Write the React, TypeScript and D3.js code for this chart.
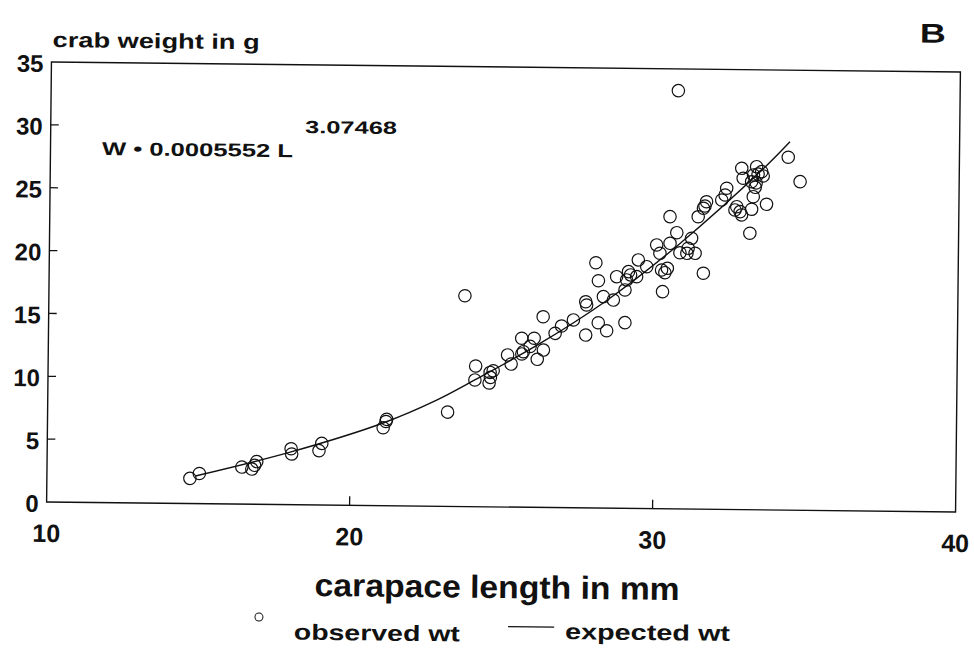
import React from "react";
import * as d3 from "d3";

// observed points: carapace length (mm) and weight (g)
const obsLength = [
  14.72, 15.03, 16.43, 16.76, 16.92, 16.85, 18.05, 18.07, 18.97, 19.06,
  21.08, 21.19, 21.17, 23.2, 23.73, 24.11, 24.09, 24.59, 24.69, 24.56,
  25.16, 25.28, 25.62, 25.63, 25.68, 26.03, 26.14, 26.34, 26.32, 26.72,
  26.93, 27.32, 27.73, 27.75, 27.72, 28.14, 28.42, 28.3, 28.63, 29.02,
  28.13, 28.04, 28.73, 29.01, 29.12, 29.19, 29.06, 29.44, 29.39, 29.72,
  30.04, 30.15, 30.25, 30.21, 30.32, 30.4, 30.47, 30.48, 30.7, 30.7,
  31.19, 31.08, 31.31, 31.04, 30.81, 31.59, 31.67, 31.62, 31.57, 31.4,
  32.33, 32.28, 32.17, 32.67, 32.78, 32.83, 32.61, 33.16, 33.11, 33.21,
  33.65, 32.82, 33.31, 33.48, 33.21, 32.87, 33.15, 33.53, 33.27, 34.35,
  34.75, 33.36, 33.3, 24.6, 25.9,
];
const obsWeight = [
  2.0, 2.4, 2.95, 2.8, 3.4, 3.1, 4.45, 4.03, 4.32, 4.9,
  6.2, 6.87, 6.7, 7.5, 16.77, 11.19, 10.08, 10.69, 10.83, 9.85,
  12.1, 11.38, 13.44, 12.19, 12.37, 13.45, 11.78, 12.52, 15.17, 13.86,
  14.45, 14.94, 13.75, 16.14, 16.4, 14.74, 14.11, 16.82, 16.56, 14.77,
  18.08, 19.51, 18.42, 17.37, 18.83, 18.57, 18.17, 19.77, 18.44, 19.24,
  20.98, 20.32, 17.27, 18.99, 18.78, 19.13, 23.24, 21.12, 21.97, 33.27,
  21.54, 20.74, 20.35, 20.34, 20.38, 18.77, 24.46, 24.12, 23.94, 23.26,
  25.55, 25.01, 24.61, 24.09, 23.7, 23.44, 23.83, 23.9, 21.99, 24.9,
  24.31, 27.15, 27.29, 26.9, 26.63, 26.36, 26.09, 26.56, 25.65, 28.07,
  26.14, 26.7, 26.0, 10.3, 12.8,
];

// expected weight line
const expLength = [14.9, 18.05, 21.1, 22.8, 24.1, 26.2, 28.4, 30.8, 33.6, 34.4];
const expWeight = [2.2, 4.2, 6.6, 8.4, 10.1, 13.0, 16.5, 21.1, 27.3, 29.3];

const xTickLabels = [10, 20, 30, 40];
const xTickMarks = [20, 30];
const yTickLabels = [0, 5, 10, 15, 20, 25, 30, 35];
const yTickMarks = [5, 10, 15, 20, 25, 30];

const FONT = "'Liberation Sans', Arial, Helvetica, sans-serif";

export default function App() {
  const W = 974;
  const H = 669;
  const left = 49;
  const right = 958;
  const top = 67;
  const bottom = 507;

  const x = d3.scaleLinear().domain([10, 40]).range([left, right]);
  const y = d3.scaleLinear().domain([0, 35]).range([bottom, top]);

  const pts = obsLength.map((l, i) => ({ l, w: obsWeight[i] }));
  const linePts = expLength.map((l, i) => ({ l, w: expWeight[i] }));
  const line = d3
    .line<{ l: number; w: number }>()
    .x((d) => x(d.l))
    .y((d) => y(d.w))
    .curve(d3.curveCatmullRom);

  return (
    <svg
      width={W}
      height={H}
      style={{ position: "absolute", left: 0, top: 0, background: "#fff" }}
      fontFamily={FONT}
    >
      <rect x={0} y={0} width={W} height={H} fill="#fff" />
      <g transform="rotate(0.63 503.5 287)">
        {/* frame */}
        <rect
          x={left}
          y={top}
          width={right - left}
          height={bottom - top}
          fill="none"
          stroke="#111"
          strokeWidth={1.4}
        />
        {/* y ticks */}
        {yTickMarks.map((t) => (
          <line key={"yt" + t} x1={left} x2={left + 8} y1={y(t)} y2={y(t)} stroke="#111" strokeWidth={1.3} />
        ))}
        {xTickMarks.map((t) => (
          <line key={"xt" + t} x1={x(t)} x2={x(t)} y1={bottom} y2={bottom - 9} stroke="#111" strokeWidth={1.3} />
        ))}
        {yTickLabels.map((t) => (
          <text
            key={"yl" + t}
            x={left - 8}
            y={y(t) + 1.5}
            textAnchor="end"
            dominantBaseline="central"
            fontSize={24}
            fontWeight="bold"
            fill="#111"
          >
            {t}
          </text>
        ))}
        {xTickLabels.map((t) => (
          <text
            key={"xl" + t}
            x={x(t)}
            y={bottom + 40}
            textAnchor="middle"
            fontSize={25}
            fontWeight="bold"
            fill="#111"
          >
            {t}
          </text>
        ))}

        {/* expected line */}
        <path d={line(linePts) || ""} fill="none" stroke="#111" strokeWidth={1.4} />

        {/* observed points */}
        {pts.map((p, i) => (
          <circle key={"p" + i} cx={x(p.l)} cy={y(p.w)} r={6.2} fill="none" stroke="#111" strokeWidth={1.2} />
        ))}

        {/* titles */}
        <text x={50} y={52} fontSize={21} fontWeight="bold" fill="#111" textLength={207} lengthAdjust="spacingAndGlyphs">
          crab weight in g
        </text>
        <text x={917} y={38} fontSize={27} fontWeight="bold" fill="#111" textLength={26} lengthAdjust="spacingAndGlyphs">
          B
        </text>
        <text x={100.5} y={159.4} fontSize={18.5} fontWeight="bold" fill="#111" textLength={191} lengthAdjust="spacingAndGlyphs">
          W • 0.0005552 L
        </text>
        <text x={303.3} y={135.2} fontSize={17.5} fontWeight="bold" fill="#111" textLength={92} lengthAdjust="spacingAndGlyphs">
          3.07468
        </text>
        <text x={318} y={598} fontSize={32} fontWeight="bold" fill="#111" textLength={365} lengthAdjust="spacingAndGlyphs">
          carapace length in mm
        </text>

        {/* legend */}
        <circle cx={262.6} cy={619.7} r={4} fill="none" stroke="#111" strokeWidth={1} />
        <text x={297.7} y={641.9} fontSize={22} fontWeight="bold" fill="#111" textLength={166} lengthAdjust="spacingAndGlyphs">
          observed wt
        </text>
        <line x1={511.8} x2={557.9} y1={626.6} y2={626.6} stroke="#111" strokeWidth={1.3} />
        <text x={568.8} y={638.4} fontSize={22} fontWeight="bold" fill="#111" textLength={165} lengthAdjust="spacingAndGlyphs">
          expected wt
        </text>
      </g>
    </svg>
  );
}
